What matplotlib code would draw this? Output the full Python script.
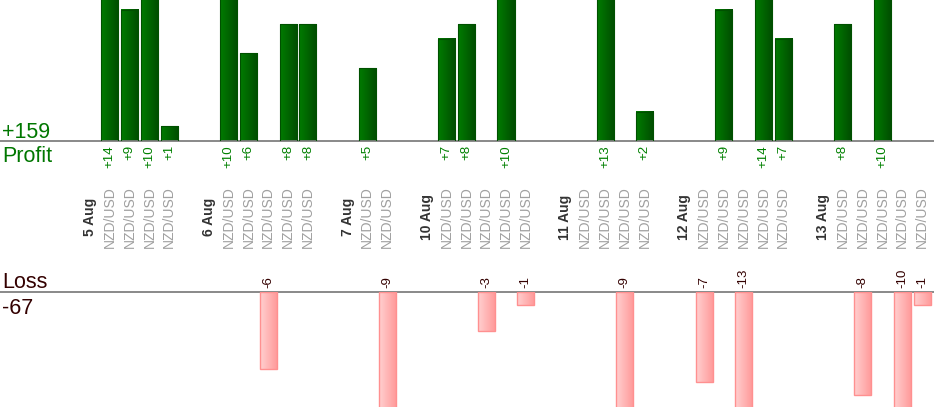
import matplotlib
matplotlib.use("Agg")
import matplotlib.pyplot as plt
import numpy as np
from matplotlib.transforms import blended_transform_factory
from matplotlib.colors import LinearSegmentedColormap

plt.rcParams['font.family'] = ['Liberation Sans', 'DejaVu Sans']

# ---- data ----
dates = ['5 Aug', '6 Aug', '7 Aug', '10 Aug', '11 Aug', '12 Aug', '13 Aug']
trades_5aug = [14, 9, 10, 1]
trades_6aug = [10, 6, -6, 8, 8]
trades_7aug = [5, -9]
trades_10aug = [7, 8, -3, 10, -1]
trades_11aug = [0, 13, -9, 2]
trades_12aug = [-7, 9, -13, 14, 7]
trades_13aug = [8, -8, 10, -10, -1]
day_trades = [trades_5aug, trades_6aug, trades_7aug, trades_10aug,
              trades_11aug, trades_12aug, trades_13aug]
pair = 'NZD/USD'
total_profit_label = '+159'
total_loss_label = '-67'

# ---- layout ----
W, H = 934, 420
fig = plt.figure(figsize=(W / 100, H / 100), dpi=100)

px_per_slot = 19.81
x0_px = 90
base_p, base_l, bottom_l = 141, 292, 407
p_scale, l_scale = 14.6, 12.9

xlim = (-x0_px / px_per_slot, (W - x0_px) / px_per_slot)

ax_p = fig.add_axes([0, (H - base_p) / H, 1, base_p / H])
ax_l = fig.add_axes([0, (H - bottom_l) / H, 1, (bottom_l - base_l) / H])
for ax in (ax_p, ax_l):
    ax.set_xlim(*xlim)
    ax.set_xticks([])
    ax.set_yticks([])
    for s in ax.spines.values():
        s.set_visible(False)
    ax.patch.set_alpha(0)
ax_p.set_ylim(0, base_p / p_scale)
ax_l.set_ylim(-(bottom_l - base_l) / l_scale, 0)
ax_p.spines['bottom'].set_visible(True)
ax_p.spines['bottom'].set_color('#808080')
ax_p.spines['bottom'].set_linewidth(1.3)
ax_l.spines['top'].set_visible(True)
ax_l.spines['top'].set_color('#808080')
ax_l.spines['top'].set_linewidth(1.3)

green_cmap = LinearSegmentedColormap.from_list('g', ['#007c00', '#004c00'])
pink_cmap = LinearSegmentedColormap.from_list('p', ['#ffd0d0', '#ff9898'])
grad = np.linspace(0, 1, 64).reshape(1, -1)

bw = 0.86
label_y = 1 - 217 / H
tr_label = blended_transform_factory(ax_p.transData, fig.transFigure)

pos = 0
for date, trades in zip(dates, day_trades):
    ax_p.text(pos, label_y, date, transform=tr_label, rotation=90,
              ha='center', va='center', fontsize=10, fontweight='bold',
              color='#333333', clip_on=False)
    for i, v in enumerate(trades):
        x = pos + 1 + i
        ax_p.text(x, label_y, pair, transform=tr_label, rotation=90,
                  ha='center', va='center', fontsize=10, color='#a0a0a0',
                  clip_on=False)
        if v > 0:
            ax_p.imshow(grad, extent=[x - bw / 2, x + bw / 2, 0, v],
                        aspect='auto', cmap=green_cmap, zorder=2)
            ax_p.bar(x, v, width=bw, fill=False, edgecolor='#005000',
                     linewidth=0.8, zorder=3)
            ax_p.annotate(f'+{v}', (x, 0), xytext=(0, -4),
                          textcoords='offset pixels', rotation=90,
                          ha='center', va='top', fontsize=9.5,
                          color='#008000', annotation_clip=False)
        elif v < 0:
            ax_l.imshow(grad, extent=[x - bw / 2, x + bw / 2, v, 0],
                        aspect='auto', cmap=pink_cmap, zorder=2)
            ax_l.bar(x, v, width=bw, fill=False, edgecolor='#ff9090',
                     linewidth=1.0, zorder=3)
            ax_l.annotate(f'{v}', (x, 0), xytext=(0, 4),
                          textcoords='offset pixels', rotation=90,
                          ha='center', va='bottom', fontsize=9.5,
                          color='#330000', annotation_clip=False)
    pos += len(trades) + 2

for ax in (ax_p, ax_l):
    ax.set_xlim(*xlim)
ax_p.set_ylim(0, base_p / p_scale)
ax_l.set_ylim(-(bottom_l - base_l) / l_scale, 0)

fig.text(2 / W, 1 - 138 / H, total_profit_label, fontsize=15.5,
         color='#007700', va='baseline', ha='left')
fig.text(2 / W, 1 - 162 / H, 'Profit', fontsize=15.5,
         color='#007700', va='baseline', ha='left')
fig.text(2 / W, 1 - 288 / H, 'Loss', fontsize=15.5,
         color='#330000', va='baseline', ha='left')
fig.text(2 / W, 1 - 314 / H, total_loss_label, fontsize=15.5,
         color='#330000', va='baseline', ha='left')

fig.savefig('out.png', dpi=100)
